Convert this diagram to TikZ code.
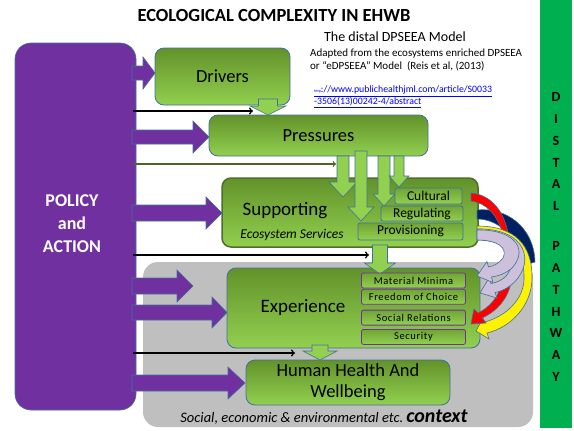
\documentclass[tikz,border=0pt]{standalone}
\usepackage{fontspec}
\setmainfont{Carlito}
\usetikzlibrary{positioning}

\definecolor{policypurple}{RGB}{112,48,160}
\definecolor{boxline}{RGB}{65,113,156}
\definecolor{boxtop}{RGB}{98,146,42}
\definecolor{boxbottom}{RGB}{146,208,80}
\definecolor{arrowgreen}{RGB}{146,208,80}
\definecolor{supportline}{RGB}{79,110,40}
\definecolor{olivearrow}{RGB}{79,98,40}
\definecolor{contextgray}{RGB}{191,191,191}
\definecolor{distalgreen}{RGB}{0,176,80}
\definecolor{navyband}{RGB}{0,32,96}
\definecolor{lavender}{RGB}{204,192,218}

\tikzset{
  mainbox/.style={draw=boxline,line width=0.8pt,rounded corners=9pt,top color=boxtop,bottom color=boxbottom,inner sep=0pt,font=\fontsize{18.5}{21}\selectfont,align=center},
  servicebox/.style={draw=boxline,line width=0.8pt,rounded corners=2pt,top color=boxtop!70!boxbottom,bottom color=boxbottom,inner sep=0pt,minimum height=15pt,font=\fontsize{13.5}{15}\selectfont},
  needbox/.style={draw=policypurple,line width=0.8pt,rounded corners=2pt,top color=boxtop!70!boxbottom,bottom color=boxbottom,inner sep=0pt,minimum width=104pt,minimum height=15pt,font=\fontsize{10.5}{12}\selectfont\addfontfeature{LetterSpace=6}},
  policyarrow/.style={fill=policypurple,draw=boxline,line width=0.6pt},
  flowarrow/.style={fill=arrowgreen,draw=boxline,line width=0.6pt},
  actionline/.style={->,line width=1.5pt},
  bandarrow/.style={draw=boxline,line width=0.6pt},
}

\begin{document}
\begin{tikzpicture}[x=1pt,y=-1pt]
\useasboundingbox (0,0) rectangle (574,431);
%% distal pathway band
\fill[distalgreen] (540,0) rectangle (572,428);
\node[font=\fontsize{14}{21.8}\selectfont\bfseries,align=center] (distal) at (556,237) {D\\I\\S\\T\\A\\L\\[18.2pt]P\\A\\T\\H\\W\\A\\Y};
%% context
\fill[contextgray,rounded corners=15pt] (143,262) rectangle (533,427);
\node (context) at (324,417) {{\itshape\fontsize{14.5}{16}\selectfont Social, economic \& environmental etc.} {\bfseries\itshape\fontsize{20}{22}\selectfont context}};
%% titles
\node[font=\fontsize{18.5}{22}\selectfont\bfseries] (title) at (274,15) {ECOLOGICAL COMPLEXITY IN EHWB};
\node[font=\fontsize{14}{16}\selectfont] (model) at (395,37) {The distal DPSEEA Model};
\node[anchor=west,align=left,font=\fontsize{11}{13}\selectfont,inner sep=0pt] (adapted) at (310,59.5) {Adapted from the ecosystems enriched DPSEEA\\or ``eDPSEEA'' Model\ \ (Reis et al, (2013)};
\node[anchor=west,align=left,text=blue,font=\fontsize{9.8}{12}\selectfont,inner sep=0pt] (link) at (314,97) {\underline{{\fontsize{4}{5}\selectfont http}://www.publichealthjml.com/article/S0033}\\\underline{-3506(13)00242-4/abstract}};
%% policy
\node[fill=policypurple,draw=boxline,line width=0.6pt,rounded corners=16pt,minimum width=121pt,minimum height=367pt] (policy) at (75.5,226.5) {};
\node[text=white,font=\fontsize{18}{23}\selectfont\bfseries,align=center] (policytext) at (72,224) {POLICY\\and\\ACTION};
%% boxes
\node[mainbox,minimum width=135pt,minimum height=57pt] (drivers) at (222.5,76.5) {Drivers};
\node[mainbox,minimum width=219pt,minimum height=41pt] (pressures) at (318.5,135.5) {Pressures};
\node[mainbox,draw=supportline,line width=1.5pt,minimum width=256pt,minimum height=69pt] (supporting) at (350,212.5) {};
\node[font=\fontsize{19}{21}\selectfont] (supportingtext) at (285,211) {Supporting};
\node[font=\fontsize{13.5}{15}\selectfont\itshape] (ecosystem) at (292,235) {Ecosystem Services};
\node[mainbox,minimum width=253pt,minimum height=80pt] (experience) at (353.5,308) {};
\node[font=\fontsize{19}{21}\selectfont] (experiencetext) at (303,307) {Experience};
\node[mainbox,minimum width=204pt,minimum height=45pt] (health) at (348,382.5) {Human Health And\\Wellbeing};
%% black and olive lines
\coordinate (driverline) at (253,111);
\coordinate (oliveline) at (336,164);
\coordinate (supportline) at (369,255);
\coordinate (healthline) at (295,353);
\draw[actionline] ([xshift=-3pt]policy.east |- driverline) -- (driverline);
\draw[actionline,olivearrow,line width=1.2pt] ([xshift=-3pt]policy.east |- oliveline) -- (oliveline);
\draw[actionline] ([xshift=-3pt]policy.east |- supportline) -- (supportline);
\draw[actionline] ([xshift=-3pt]policy.east |- healthline) -- (healthline);
%% purple arrows
\draw[policyarrow] (132,66) -| (143,57) -- (155,73) -- (143,89) |- (132,80) -- cycle;
\draw[policyarrow] (132,130) -| (193,121) -- (209,137) -- (193,153) |- (132,144) -- cycle;
\draw[policyarrow] (132,205) -| (206,197) -- (222,213) -- (206,229) |- (132,221) -- cycle;
\draw[policyarrow] (132,278) -| (177,270) -- (193,286) -- (177,302) |- (132,294) -- cycle;
\draw[policyarrow] (132,305) -| (212,297) -- (227,312.5) -- (212,328) |- (132,320) -- cycle;
\draw[policyarrow] (132,375) -| (228,367) -- (245,383) -- (228,399) |- (132,391) -- cycle;
%% green arrows
\draw[flowarrow] (258.5,99) |- (250,106) -- (268,115) -- (286,106) -| (277.5,99) -- cycle;
\draw[flowarrow] (337,156) |- (329,182) -- (343,197) -- (357,182) -| (349,156) -- cycle;
\draw[flowarrow] (355,151) |- (348,207) -- (361,221) -- (374,207) -| (367,151) -- cycle;
\draw[flowarrow] (378,156) |- (373,194) -- (384,206) -- (395,194) -| (390,156) -- cycle;
\draw[flowarrow] (394,156) |- (389,176) -- (399,187) -- (409,176) -| (404,156) -- cycle;
\draw[flowarrow] (372.5,245) |- (364.5,263) -- (380,274) -- (395.5,263) -| (387.5,245) -- cycle;
\draw[flowarrow] (312,345) |- (303,351) -- (320,360) -- (337,351) -| (328,345) -- cycle;
%% ecosystem services
\node[servicebox,minimum width=67pt,minimum height=16pt] (cultural) at (428.5,196) {Cultural};
\node[servicebox,minimum width=82pt] (regulating) at (422,213.5) {Regulating};
\node[servicebox,minimum width=105pt,minimum height=17pt] (provisioning) at (410.5,231.5) {Provisioning};
%% experience needs
\node[needbox] (minima) at (413.5,280.5) {Material Minima};
\node[needbox,below=0.5pt of minima] (choice) {Freedom of Choice};
\node[needbox,below=5pt of choice] (relations) {Social Relations};
\node[needbox,below=3.5pt of relations] (security) {Security};
%% curved arrows
\draw[bandarrow,fill=navyband] (477,210) .. controls (505,207) and (534,226) .. (535,262) -- (522,266) .. controls (520,240) and (500,219) .. (477,219) -- cycle;
\draw[bandarrow,fill=red] (471,193) .. controls (492,195) and (504,212) .. (508,233) -- (503,234) .. controls (497,215) and (487,203) .. (471,201) -- cycle;
\draw[bandarrow,fill=yellow] (477,226) .. controls (515,226) and (533,245) .. (532,280) .. controls (531,305) and (512,327) .. (487,333) -- (489,339) -- (476,331) -- (483,318) -- (485,322) .. controls (506,316) and (523,300) .. (524,280) .. controls (525,250) and (510,230) .. (477,229) -- cycle;
\draw[bandarrow,fill=red] (503,281) .. controls (498,298) and (490,307) .. (478,313) -- (474,309) -- (471,324) -- (486,323) -- (482,318) .. controls (497,311) and (507,300) .. (511,283) -- cycle;
\draw[bandarrow,fill=lavender] (477,229) .. controls (520,228) and (535,255) .. (518,278) .. controls (512,286) and (503,291) .. (495,292.5) -- (497,298) -- (480,293) -- (489,278) -- (491,283.5) .. controls (500,282) and (507,277) .. (510,270) .. controls (518,255) and (505,240) .. (477,240) -- cycle;
\draw[bandarrow,fill=lavender] (477,230) .. controls (512,229) and (530,248) .. (512,268) .. controls (505,274) and (498,276) .. (491.5,277) -- (493,282.5) -- (477,276) -- (487,261.5) -- (488.5,267) .. controls (495,266) and (500,262) .. (503,258) .. controls (508,248) and (498,240) .. (477,240) -- cycle;
\end{tikzpicture}
\end{document}
